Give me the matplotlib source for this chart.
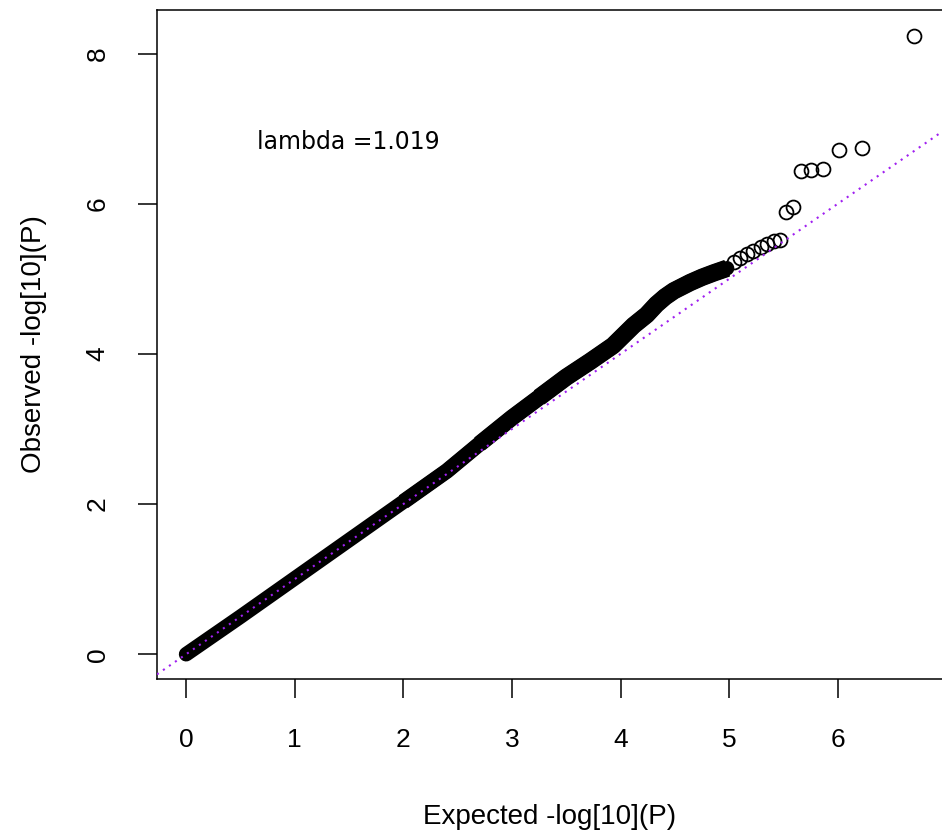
import matplotlib
matplotlib.use("Agg")
import matplotlib.pyplot as plt

# dense part of the QQ curve
band_expected = [0.00, 0.50, 1.00, 1.50, 2.00, 2.40, 2.70, 3.00, 3.25, 3.50, 3.72,
                 3.93, 4.12, 4.24, 4.33, 4.41, 4.49, 4.64, 4.75, 4.86, 4.98]
band_observed = [0.00, 0.50, 1.01, 1.52, 2.03, 2.44, 2.80, 3.15, 3.42, 3.69, 3.90,
                 4.11, 4.38, 4.52, 4.66, 4.76, 4.84, 4.95, 5.02, 5.08, 5.14]

# separately visible points in the tail
tail_expected = [5.04, 5.10, 5.16, 5.22, 5.29, 5.35, 5.41, 5.47,
                 5.52, 5.59, 5.66, 5.75, 5.86, 6.01, 6.22, 6.70]
tail_observed = [5.22, 5.28, 5.33, 5.37, 5.42, 5.46, 5.50, 5.52,
                 5.89, 5.95, 6.43, 6.45, 6.46, 6.71, 6.74, 8.24]

lambda_value = 1.019

fig = plt.figure(figsize=(9.42, 8.39), dpi=100)
ax = fig.add_axes([157 / 942, 160 / 839, 786 / 942, 669 / 839])

# overlapping circles form a solid band, drawn as a thick line that
# widens a little where the points scatter more
ax.plot(band_expected, band_observed, color="black", lw=10.5,
        solid_capstyle="round", solid_joinstyle="round", zorder=2)
for start, width in [(4, 11.2), (6, 11.9), (8, 12.6)]:
    ax.plot(band_expected[start:], band_observed[start:], color="black", lw=width,
            solid_capstyle="butt", solid_joinstyle="round", zorder=2)
ax.plot(tail_expected, tail_observed, linestyle="none", marker="o", ms=10,
        mfc="none", mec="black", mew=1.3, zorder=3)

ax.axline((0, 0), slope=1, color="#A020F0", lw=1.5, linestyle=(0, (1, 2.5)), zorder=4)

ax.text(1.49, 6.82, "lambda =%.3f" % lambda_value, ha="center", va="center",
        fontsize=17, family="DejaVu Sans")

ax.set_xlim(-0.268, 6.968)
ax.set_ylim(-0.33, 8.58)
ax.set_xticks(range(0, 7))
ax.set_yticks(range(0, 9, 2))

font = "Liberation Sans"
ax.tick_params(axis="both", length=14, width=1.1, direction="out", labelsize=19)
ax.tick_params(axis="x", pad=21)
ax.tick_params(axis="y", pad=20)
for lab in ax.get_xticklabels() + ax.get_yticklabels():
    lab.set_family(font)
for lab in ax.get_yticklabels():
    lab.set_rotation(90)
    lab.set_va("center")

ax.set_xlabel("Expected -log[10](P)", fontsize=20, family=font, labelpad=38)
ax.set_ylabel("Observed -log[10](P)", fontsize=20, family=font, labelpad=28)

for sp in ax.spines.values():
    sp.set_linewidth(1.1)

fig.savefig("out.png", dpi=100)
